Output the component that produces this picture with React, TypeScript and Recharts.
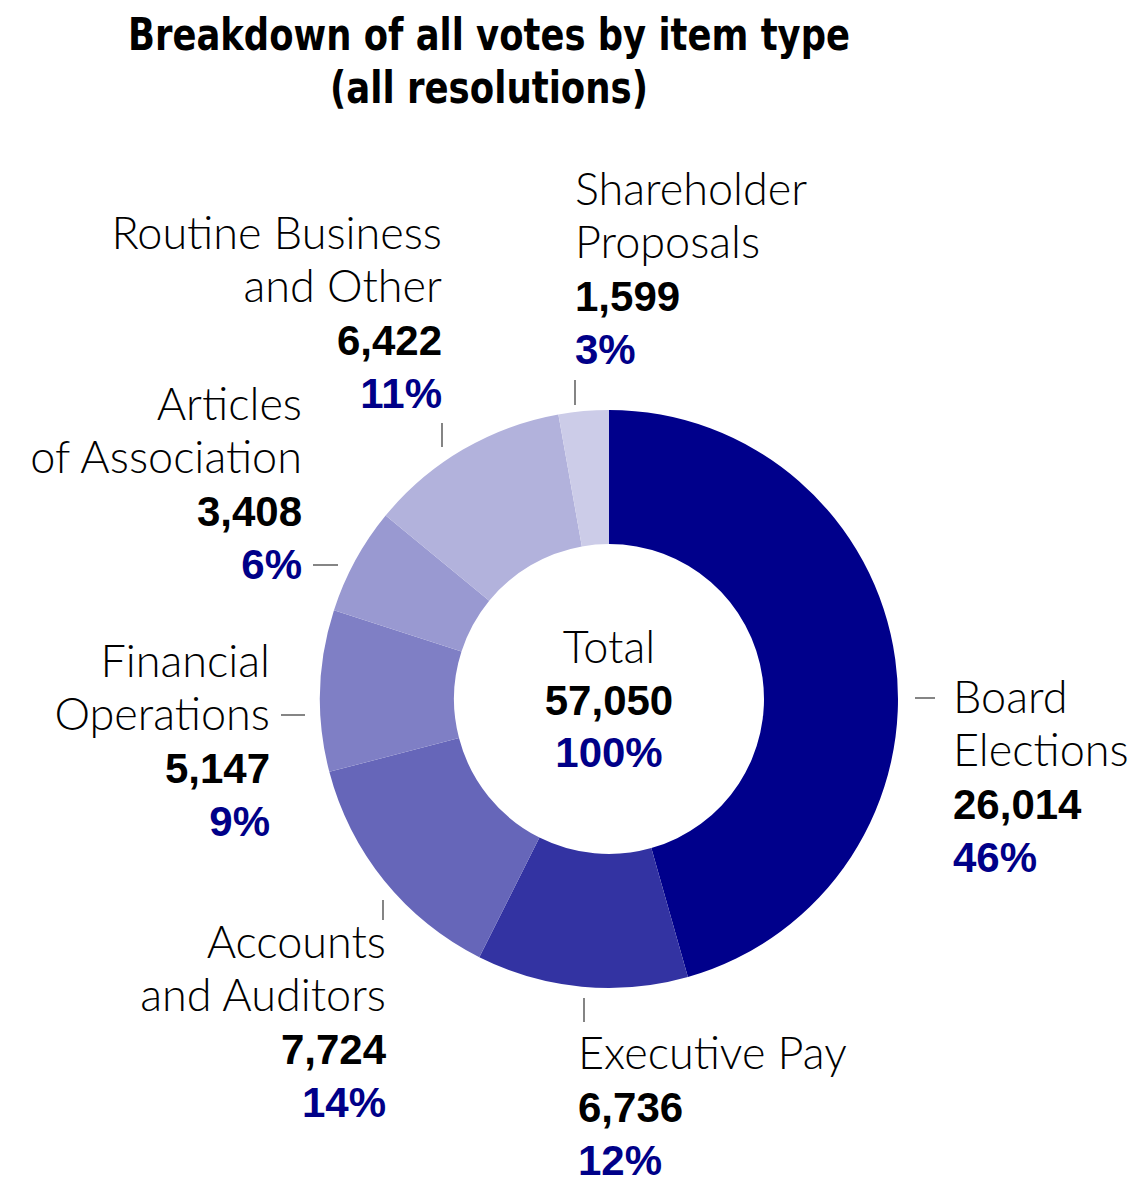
import React from "react";
import { PieChart, Pie, Cell, Label } from "recharts";

const titleLines = ["Breakdown of all votes by item type", "(all resolutions)"];
const categories = [
  "Board Elections",
  "Executive Pay",
  "Accounts and Auditors",
  "Financial Operations",
  "Articles of Association",
  "Routine Business and Other",
  "Shareholder Proposals",
];
const labelLines = [
  ["Board", "Elections"],
  ["Executive Pay"],
  ["Accounts", "and Auditors"],
  ["Financial", "Operations"],
  ["Articles", "of Association"],
  ["Routine Business", "and Other"],
  ["Shareholder", "Proposals"],
];
const votes = [26014, 6736, 7724, 5147, 3408, 6422, 1599];
const colors = ["#00008B", "#3333A2", "#6666B9", "#7F7FC5", "#9999D1", "#B2B2DC", "#CCCCE8"];

const total = votes.reduce((a, b) => a + b, 0);
const data = categories.map((name, i) => ({ name, value: votes[i] }));

const CX = 609;
const CY = 699;

// label layout relative to pie centre: tick [x1,y1,x2,y2], text x, first baseline y, anchor
const layout = [
  { tick: [306, -1, 326, -1], x: 344, y: 14, anchor: "start" },
  { tick: [-25, 299, -25, 323], x: -31, y: 370, anchor: "start" },
  { tick: [-226, 201, -226, 221], x: -223, y: 259, anchor: "end" },
  { tick: [-328, 16, -304, 16], x: -339, y: -22, anchor: "end" },
  { tick: [-296, -134, -271, -134], x: -307, y: -279, anchor: "end" },
  { tick: [-167, -276, -167, -252], x: -167, y: -450, anchor: "end" },
  { tick: [-34, -319, -34, -294], x: -34, y: -494, anchor: "start" },
];

const LINE = 53;
const nameFont = "Lato, 'Open Sans', sans-serif";
const numFont = "'Liberation Sans', Arial, sans-serif";

const fmt = (v: number) => v.toLocaleString("en-US");
const pct = (v: number) => `${Math.round((v / total) * 100)}%`;

const renderLabel = (props: any) => {
  const { cx, cy, index } = props;
  const L = layout[index];
  const lines = labelLines[index];
  const v = votes[index];
  return (
    <g key={`lbl-${index}`}>
      <line
        x1={cx + L.tick[0]}
        y1={cy + L.tick[1]}
        x2={cx + L.tick[2]}
        y2={cy + L.tick[3]}
        stroke="#333"
        strokeWidth={1.2}
      />
      {lines.map((t, k) => (
        <text
          key={k}
          x={cx + L.x}
          y={cy + L.y + k * LINE}
          textAnchor={L.anchor}
          fontFamily={nameFont}
          fontWeight={300}
          fontSize={45}
          fill="#000"
        >
          {t}
        </text>
      ))}
      <text
        x={cx + L.x}
        y={cy + L.y + lines.length * LINE}
        textAnchor={L.anchor}
        fontFamily={numFont}
        fontWeight={700}
        fontSize={42}
        fill="#000"
      >
        {fmt(v)}
      </text>
      <text
        x={cx + L.x}
        y={cy + L.y + (lines.length + 1) * LINE}
        textAnchor={L.anchor}
        fontFamily={numFont}
        fontWeight={900}
        fontSize={42}
        fill="#000088"
      >
        {pct(v)}
      </text>
    </g>
  );
};

const CenterLabel = (props: any) => {
  const vb = props.viewBox || {};
  const x = vb.cx ?? CX;
  const y = vb.cy ?? CY;
  return (
    <g>
      <text x={x} y={y - 36} textAnchor="middle" fontFamily={nameFont} fontWeight={300} fontSize={45} fill="#000">
        Total
      </text>
      <text x={x} y={y + 16} textAnchor="middle" fontFamily={numFont} fontWeight={700} fontSize={42} fill="#000">
        {fmt(total)}
      </text>
      <text x={x} y={y + 68} textAnchor="middle" fontFamily={numFont} fontWeight={900} fontSize={42} fill="#000088">
        100%
      </text>
    </g>
  );
};

export default function App() {
  return (
    <div style={{ position: "absolute", left: 0, top: 0, width: 1132, height: 1178, background: "#fff" }}>
      <svg width={1132} height={130} style={{ position: "absolute", left: 0, top: 0 }}>
        <text
          x={489}
          y={50}
          textAnchor="middle"
          fontFamily="'DejaVu Sans', sans-serif"
          fontWeight={700}
          fontSize={45}
          textLength={722}
          lengthAdjust="spacingAndGlyphs"
          fill="#000"
        >
          {titleLines[0]}
        </text>
        <text
          x={489}
          y={103}
          textAnchor="middle"
          fontFamily="'DejaVu Sans', sans-serif"
          fontWeight={700}
          fontSize={45}
          textLength={318}
          lengthAdjust="spacingAndGlyphs"
          fill="#000"
        >
          {titleLines[1]}
        </text>
      </svg>
      <div style={{ position: "absolute", left: 0, top: 0 }}>
        <PieChart width={1132} height={1178} margin={{ top: 0, right: 0, bottom: 0, left: 0 }}>
          <Pie
            data={data}
            dataKey="value"
            nameKey="name"
            cx={CX}
            cy={CY}
            innerRadius={155}
            outerRadius={289}
            startAngle={90}
            endAngle={-270}
            stroke="none"
            labelLine={false}
            label={renderLabel}
            isAnimationActive={false}
          >
            {data.map((d, i) => (
              <Cell key={d.name} fill={colors[i]} />
            ))}
            <Label position="center" content={<CenterLabel />} />
          </Pie>
        </PieChart>
      </div>
    </div>
  );
}
